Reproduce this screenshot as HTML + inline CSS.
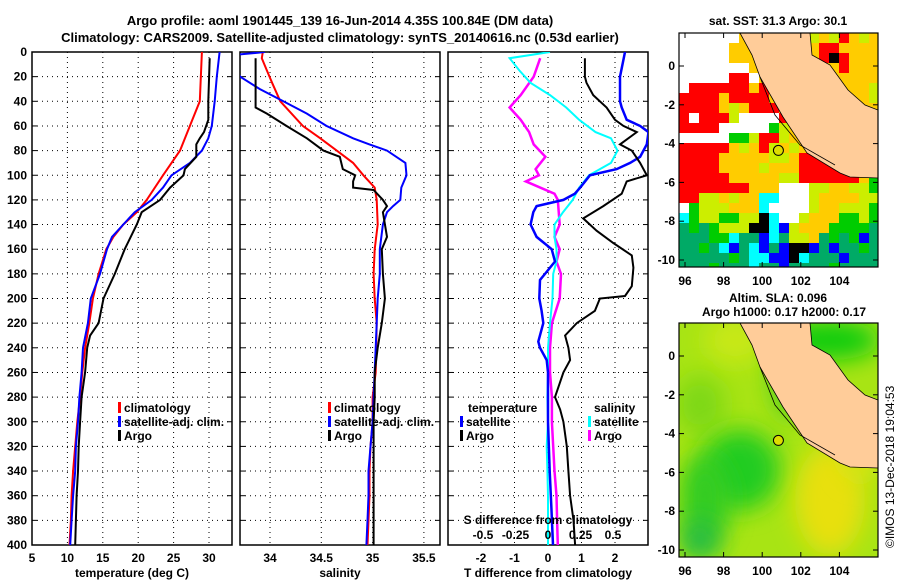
<!DOCTYPE html>
<html><head><meta charset="utf-8"><style>
body{margin:0;background:#fff}
svg{display:block;font-family:"Liberation Sans",sans-serif;font-weight:bold}
</style></head><body>
<svg id="c" width="900" height="580" viewBox="0 0 900 580" xmlns="http://www.w3.org/2000/svg">
<defs>
<clipPath id="cp1"><rect x="32" y="52" width="200" height="493"/></clipPath>
<clipPath id="cp2"><rect x="240" y="52" width="200" height="493"/></clipPath>
<clipPath id="cp3"><rect x="448" y="52" width="200" height="493"/></clipPath>
<clipPath id="cm1"><rect x="679" y="33" width="199" height="234"/></clipPath>
<clipPath id="cm2"><rect x="679" y="323" width="199" height="234"/></clipPath>
<filter id="bl" x="-50%" y="-50%" width="200%" height="200%"><feGaussianBlur stdDeviation="12"/></filter>
</defs>
<text x="340" y="25" font-size="13" text-anchor="middle">Argo profile: aoml 1901445_139 16-Jun-2014 4.35S 100.84E (DM data)</text>
<text x="340" y="42" font-size="13" text-anchor="middle">Climatology: CARS2009. Satellite-adjusted climatology: synTS_20140616.nc (0.53d earlier)</text>
<text x="778" y="25" font-size="12" text-anchor="middle">sat. SST: 31.3 Argo: 30.1</text>
<text x="778" y="302" font-size="12" text-anchor="middle">Altim. SLA: 0.096</text>
<text x="784" y="316" font-size="12" text-anchor="middle">Argo h1000: 0.17 h2000: 0.17</text>
<text transform="translate(894,548) rotate(-90)" font-size="12" font-weight="normal">©IMOS 13-Dec-2018 19:04:53</text>
<g id="g"></g>
</svg>
<script>
// ---- data ----
const depthTicks=[0,20,40,60,80,100,120,140,160,180,200,220,240,260,280,300,320,340,360,380,400];
const tempTicks=[5,10,15,20,25,30];
const salTicks=[34,34.5,35,35.5];
const tdTicks=[-2,-1,0,1,2];
const sdTicks=[-0.5,-0.25,0,0.25,0.5];
const tClimD=[0,40,60,80,100,120,130,140,150,160,180,200,220,240,260,280,300,320,340,360,380,400];
const tClimV=[29.0,28.7,27.3,25.9,23.5,21.2,19.8,17.9,16.5,15.5,14.4,13.6,13.1,12.5,12.1,11.8,11.4,11.1,10.8,10.6,10.5,10.3];
const tSatD=[0,20,40,60,70,80,90,100,110,120,130,140,150,160,180,200,220,240,260,280,300,320,340,360,380,400];
const tSatV=[31.5,31.1,30.8,30.4,29.9,29.0,27.3,24.7,23.5,21.9,19.5,17.9,16.3,15.6,14.6,13.3,12.9,12.2,12.0,11.7,11.5,11.2,11.1,10.8,10.6,10.4];
const tArgoD=[5,40,55,65,70,75,85,95,100,110,120,130,140,160,180,200,220,230,240,260,280,300,320,340,360,380,400];
const tArgoV=[30.1,29.9,29.9,29.3,28.7,28.2,28.2,26.6,26.4,24.5,23.1,20.5,19.8,18.1,16.7,15.1,14.4,13.2,12.8,12.5,12.0,11.8,11.6,11.5,11.3,11.2,11.1];
const sClimD=[0,5,15,25,40,60,70,80,90,100,110,120,140,160,180,200,220,260,280,300,320,340,360,400];
const sClimV=[33.93,33.92,33.97,34.02,34.10,34.32,34.49,34.65,34.81,34.91,35.02,35.04,35.05,35.02,35.01,35.02,35.04,35.03,35.0,35.0,34.98,34.97,34.97,34.95];
const sSatD=[0,2,10,20,30,40,50,60,70,75,80,90,100,110,120,125,130,140,160,180,200,240,280,300,320,340,360,380,400];
const sSatV=[33.95,33.7,33.6,33.71,33.90,34.13,34.36,34.55,34.81,34.97,35.14,35.32,35.33,35.28,35.27,35.2,35.14,35.10,35.07,35.07,35.05,35.03,35.01,35.0,34.98,34.96,34.96,34.95,34.94];
const sArgoD=[5,45,50,60,70,80,85,95,100,105,110,112,120,125,130,150,160,180,200,220,240,260,280,300,340,400];
const sArgoV=[33.86,33.86,33.97,34.16,34.36,34.52,34.68,34.71,34.83,34.81,34.81,35.01,35.10,35.14,35.10,35.14,35.09,35.10,35.12,35.09,35.05,35.02,35.02,35.01,35.01,35.01];
const dtSatD=[0,20,40,45,55,60,65,75,85,90,95,100,110,115,120,125,130,140,150,160,170,180,185,200,210,220,235,240,250,260,300,340,370,400];
const dtSatV=[2.3,2.15,2.15,2.2,2.35,2.75,3.0,2.95,2.75,2.45,2.05,1.25,0.96,0.8,0.46,-0.34,-0.44,-0.52,-0.34,0.11,0.21,-0.09,-0.24,-0.26,-0.19,-0.14,-0.29,-0.24,-0.04,0.0,0.0,0.05,0.1,0.15];
const dtArgoD=[5,20,25,35,45,55,60,65,75,80,90,100,105,115,125,135,145,155,165,175,190,198,200,210,220,230,240,250,260,280,290,300,320,340,360,380,400];
const dtArgoV=[1.1,1.1,1.15,1.35,1.75,2.0,2.25,2.65,2.15,2.5,2.75,2.95,2.35,2.2,1.65,1.05,1.45,1.95,2.5,2.55,2.5,2.3,1.55,1.4,0.86,0.51,0.61,0.66,0.46,0.21,0.36,0.46,0.56,0.61,0.66,0.76,0.81];
const dsSatD=[0,5,15,25,35,45,55,65,70,80,90,100,110,120,130,140,150,160,170,180,200,220,240,260,280,300,320,340,360,380,400];
const dsSatV=[0.015,-0.295,-0.22,-0.135,0.015,0.14,0.24,0.365,0.485,0.535,0.485,0.315,0.24,0.19,0.115,0.05,0.05,0.065,0.065,0.04,0.035,0.015,0,0,-0.005,0,-0.01,-0.005,0,0,0];
const dsArgoD=[5,20,35,45,55,65,75,85,95,100,105,115,120,140,150,160,170,180,200,220,240,260,280,300,320,340,360,380,400];
const dsArgoV=[-0.06,-0.11,-0.21,-0.295,-0.21,-0.145,-0.11,-0.02,-0.095,-0.07,-0.17,0.05,0.075,0.09,0.05,0.09,0.065,0.1,0.09,0.03,0.015,0.015,0.03,0.03,0.04,0.05,0.065,0.07,0.075];
const latTicks=[0,-2,-4,-6,-8,-10];
const lonTicks=[96,98,100,102,104];
const sstRows=[
"wwwwwwlllllllyoyroyo",
"wwwwwllllllllorroooo",
"wwwwwlllllllllrkrooo",
"wwwwwwwlllllllllrooo",
"wwwwwrrwlllllllllloo",
"wrrrrrrorlllllllllly",
"rrrrorrrrollllllllly",
"rrrroyorrrolllllllll",
"rwrrrywwwwrrllllllll",
"rrrrwwwwwgyoolllllll",
"wwwwwggyrryoyollllll",
"rrrrroyoryoyooolllll",
"rrrroooooyyorrrrolll",
"rrrrooooyooorrrrrrll",
"rrrrroooooyyrrrrrrog",
"rrrrrrrooowwwyyooyyg",
"rryyoyooccwwwyooooyy",
"wgyyyooocwwwwyooyyyg",
"cgyyggyykcwwyoooggyg",
"tgtgyyykkcbyoooggggt",
"tttggcttbctyyotgtgbt",
"ttgtcbtcbtbkkbtbttgt",
"tttttgtccbbkctttbttt",
"tttgtttcttbttttgtttt"];
// ---- helpers ----
const NS="http://www.w3.org/2000/svg";
const G=document.getElementById('g');
function el(t,a,p){const e=document.createElementNS(NS,t);for(const k in a)e.setAttribute(k,a[k]);(p||G).appendChild(e);return e;}
const yD=d=>52+d*1.2325;
const xT=v=>32+(v-5)*7.08;
const xS=v=>270+(v-34)*102.6;
const xDT=v=>548+v*33.5;
const xDS=v=>548+v*130;
const mLon=(v,o)=>685+(v-96)*19.3;
const mLat=(v,o)=>66+o-v*19.4;
function series(D,V,fx,col,w,clip,name){
  const pts=D.map((d,i)=>fx(V[i]).toFixed(1)+','+yD(d).toFixed(1)).join(' ');
  const p=el('polyline',{points:pts,fill:'none',stroke:col,'stroke-width':w,'clip-path':'url(#'+clip+')'});
  
  
}
function panel(x0,ticks,fx,labels,xlabel,clip,name){
  const g=el('g',{});
  
  
  depthTicks.forEach(d=>{ if(d>0&&d<400) el('line',{x1:x0,x2:x0+200,y1:yD(d),y2:yD(d),stroke:'#000','stroke-dasharray':'1,4','stroke-width':1},g);
    el('line',{x1:x0,x2:x0+5,y1:yD(d),y2:yD(d),stroke:'#000'},g);el('line',{x1:x0+195,x2:x0+200,y1:yD(d),y2:yD(d),stroke:'#000'},g);});
  ticks.forEach(t=>{const x=fx(t); if(x>x0+1&&x<x0+199) el('line',{x1:x,x2:x,y1:52,y2:545,stroke:'#000','stroke-dasharray':'1,4'},g);
    if(labels){const tx=el('text',{x:x,y:562,'font-size':12,'text-anchor':'middle'},g);tx.textContent=t;
      
      }});
  el('rect',{x:x0,y:52,width:200,height:493,fill:'none',stroke:'#000','stroke-width':1.5},g);
  const xl=el('text',{x:x0+100,y:577,'font-size':12,'text-anchor':'middle'},g);xl.textContent=xlabel;
  
  
}
depthTicks.forEach(d=>{const t=el('text',{x:27,y:yD(d)+4,'font-size':12,'text-anchor':'end'});t.textContent=d;
  
  });
panel(32,tempTicks,xT,true,'temperature (deg C)','cp1','temperature-panel');
panel(240,salTicks,xS,true,'salinity','cp2','salinity-panel');
panel(448,tdTicks,xDT,true,'T difference from climatology','cp3','difference-panel');
series(tClimD,tClimV,xT,'#f00',2,'cp1','temp-climatology-line');
series(tSatD,tSatV,xT,'#00f',2,'cp1','temp-satellite-line');
series(tArgoD,tArgoV,xT,'#000',2,'cp1','temp-argo-line');
series(sClimD,sClimV,xS,'#f00',2,'cp2','sal-climatology-line');
series(sSatD,sSatV,xS,'#00f',2,'cp2','sal-satellite-line');
series(sArgoD,sArgoV,xS,'#000',2,'cp2','sal-argo-line');
series(dsArgoD,dsArgoV,xDS,'#f0f',2.5,'cp3','dsal-argo-line');
series(dsSatD,dsSatV,xDS,'#0ff',2,'cp3','dsal-satellite-line');
series(dtSatD,dtSatV,xDT,'#00f',2.5,'cp3','dtemp-satellite-line');
series(dtArgoD,dtArgoV,xDT,'#000',2,'cp3','dtemp-argo-line');
const st=el('text',{x:548,y:524,'font-size':12,'text-anchor':'middle'});st.textContent='S difference from climatology';


sdTicks.forEach(v=>{const t=el('text',{x:xDS(v),y:539,'font-size':12,'text-anchor':'middle'});t.textContent=v;
  
  });
function leg(x,y,col,txt,name){el('rect',{x:x,y:y-10,width:3,height:11,fill:col});const t=el('text',{x:x+6,y:y,'font-size':12});t.textContent=txt;
  
  }
leg(118,412,'#f00','climatology','legend-climatology');leg(118,426,'#00f','satellite-adj. clim.','legend-satellite-adj');leg(118,440,'#000','Argo','legend-argo');
leg(328,412,'#f00','climatology','legend-climatology-sal');leg(328,426,'#00f','satellite-adj. clim.','legend-satellite-adj-sal');leg(328,440,'#000','Argo','legend-argo-sal');
const lt=el('text',{x:468,y:412,'font-size':12});lt.textContent='temperature';


const ls=el('text',{x:594,y:412,'font-size':12});ls.textContent='salinity';


leg(460,426,'#00f','satellite','legend-temp-satellite');leg(460,440,'#000','Argo','legend-temp-argo');
leg(588,426,'#0ff','satellite','legend-sal-satellite');leg(588,440,'#f0f','Argo','legend-sal-argo');
const colMap={w:'#fff',l:'#ffcc00',r:'#f00',o:'#ffcc00',y:'#ccee00',g:'#00cc00',t:'#00aa66',c:'#00ffff',b:'#0000ff',k:'#000'};
const land=[[740,33],[810,33],[812,55],[830,65],[848,90],[865,105],[878,110],[878,178],[850,177],[840,173],[807,153],[783,117],[760,77],[752,55]];
function landPoly(o,g){const p=el('polygon',{points:land.map(q=>q[0]+','+(q[1]+o)).join(' '),fill:'#fc9',stroke:'#000','stroke-width':0.8},g);
  
  
  el('polyline',{points:'760,'+(77+o)+' 775,'+(115+o)+' 800,'+(145+o)+' 835,'+(165+o),fill:'none',stroke:'#000','stroke-width':0.8},g);}
function mapAxes(o,name){
  const g=el('g',{});
  
  
  el('rect',{x:679,y:33+o,width:199,height:234,fill:'none',stroke:'#000','stroke-width':1.2},g);
  latTicks.forEach(v=>{const y=mLat(v,o);el('line',{x1:679,x2:684,y1:y,y2:y,stroke:'#000'},g);el('line',{x1:873,x2:878,y1:y,y2:y,stroke:'#000'},g);
    const t=el('text',{x:675,y:y+4,'font-size':12,'text-anchor':'end'},g);t.textContent=v;
    
    });
  lonTicks.forEach(v=>{const x=mLon(v,o);el('line',{x1:x,x2:x,y1:262+o,y2:267+o,stroke:'#000'},g);el('line',{x1:x,x2:x,y1:33+o,y2:38+o,stroke:'#000'},g);
    const t=el('text',{x:x,y:285+o,'font-size':12,'text-anchor':'middle'},g);t.textContent=v;
    
    });
  const c=el('circle',{cx:mLon(100.84,o),cy:mLat(-4.35,o),r:5,fill:'#dddd00',stroke:'#000'},g);
  
  
}
const m1=el('g',{'clip-path':'url(#cm1)'});


sstRows.forEach((row,r)=>{for(let c=0;c<row.length;c++){el('rect',{x:679+c*10,y:33+r*10,width:10.5,height:10.5,fill:colMap[row[c]]},m1);}});
landPoly(0,m1);
mapAxes(0,'sst-map-axes');
const m2=el('g',{'clip-path':'url(#cm2)'});


el('rect',{x:679,y:323,width:199,height:234,fill:'#a8e414'},m2);
const blobs=[[735,340,30,25,'#c8e818'],[700,405,25,30,'#7ed818'],[740,470,40,40,'#22cc22'],[705,500,25,45,'#33cc22'],[830,500,35,55,'#e8e010'],[860,450,20,30,'#d8e414'],[790,370,20,50,'#55d01c'],[830,340,50,20,'#11cc11'],[700,540,20,20,'#22bb44']];
blobs.forEach(b=>el('ellipse',{cx:b[0],cy:b[1],rx:b[2],ry:b[3],fill:b[4],filter:'url(#bl)'},m2));
landPoly(290,m2);
mapAxes(290,'sla-map-axes');
</script>
</body></html>
